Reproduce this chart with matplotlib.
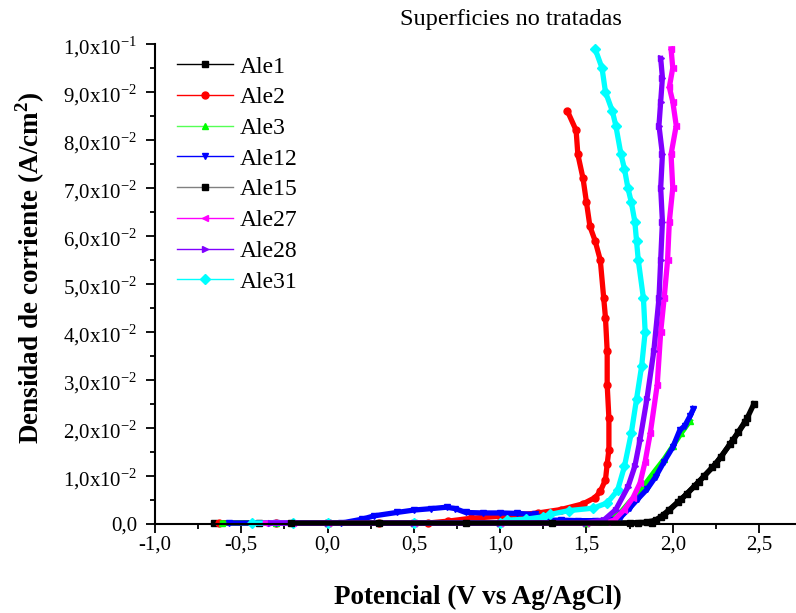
import matplotlib
matplotlib.use('Agg')
import matplotlib.pyplot as plt
from matplotlib.lines import Line2D
from matplotlib.ticker import FixedLocator, MultipleLocator

plt.rcParams['font.family'] = ['Liberation Serif', 'DejaVu Serif']
plt.rcParams['mathtext.fontset'] = 'custom'
plt.rcParams['mathtext.rm'] = 'Liberation Serif'
plt.rcParams['mathtext.bf'] = 'Liberation Serif:bold'

# ---- data (potential V, current density A/cm2) ----
names = ['Ale1', 'Ale2', 'Ale3', 'Ale12', 'Ale15', 'Ale27', 'Ale28', 'Ale31']

ale1_x = [-0.66, -0.4, 0.0, 0.5, 1.0, 1.5, 1.75, 1.85, 1.9, 1.93, 1.98, 2.03, 2.08,
          2.13, 2.18, 2.23, 2.28, 2.33, 2.38, 2.43, 2.47]
ale1_y = [0.0002, 0.0002, 0.0002, 0.0002, 0.0002, 0.0002, 0.0002, 0.0004, 0.0008, 0.0015,
          0.0030, 0.0046, 0.0062, 0.0080, 0.0099, 0.0118, 0.0140, 0.0166, 0.0192, 0.0220, 0.0250]

ale2_x = [-0.63, -0.3, 0.0, 0.3, 0.58, 0.7, 0.83, 1.0, 1.1, 1.22, 1.35, 1.48, 1.55, 1.58,
          1.61, 1.62, 1.63, 1.63, 1.62, 1.62, 1.61, 1.60, 1.58, 1.55, 1.52, 1.50, 1.48,
          1.45, 1.44, 1.39]
ale2_y = [0.0002, 0.0002, 0.0002, 0.0002, 0.0002, 0.0006, 0.0012, 0.0016, 0.0019, 0.0023,
          0.0030, 0.0042, 0.0055, 0.0068, 0.0092, 0.0125, 0.0155, 0.0220, 0.0290, 0.0360,
          0.0430, 0.0470, 0.0550, 0.0590, 0.0620, 0.0670, 0.0720, 0.0770, 0.0820, 0.0860]

ale3_x = [-0.61, -0.3, 0.0, 0.5, 1.0, 1.5, 1.6, 1.65, 1.7, 1.75, 1.8, 1.85, 1.9, 1.95,
          2.0, 2.05, 2.1]
ale3_y = [0.0002, 0.0002, 0.0002, 0.0002, 0.0002, 0.0003, 0.0006, 0.0012, 0.0025, 0.0046,
          0.0065, 0.0088, 0.0112, 0.0135, 0.0162, 0.0190, 0.0215]

ale12_x = [-0.57, -0.3, 0.0, 0.08, 0.2, 0.27, 0.4, 0.5, 0.6, 0.69, 0.74, 0.8, 0.9, 1.0,
           1.1, 1.2, 1.25, 1.28, 1.35, 1.45, 1.55, 1.65, 1.7, 1.75, 1.8, 1.85, 1.9, 1.95,
           2.0, 2.04, 2.07, 2.1, 2.12]
ale12_y = [0.0002, 0.0002, 0.0002, 0.0002, 0.0010, 0.0017, 0.0024, 0.0029, 0.0032, 0.0035,
           0.0032, 0.0024, 0.0023, 0.0023, 0.0022, 0.0020, 0.0012, 0.0008, 0.0008, 0.0007,
           0.0007, 0.0008, 0.0015, 0.0033, 0.0053, 0.0072, 0.0098, 0.0130, 0.0160, 0.0195,
           0.0205, 0.0225, 0.0240]

ale15_x = [-0.21, 0.3, 0.8, 1.3, 1.8, 1.88, 1.95, 2.05, 2.15, 2.25, 2.35, 2.42]
ale15_y = [0.0002, 0.0002, 0.0002, 0.0002, 0.0002, 0.0003, 0.0018, 0.0052, 0.0088, 0.0126,
           0.0175, 0.0212]

ale27_x = [-0.36, -0.2, 0.0, 0.5, 1.0, 1.5, 1.62, 1.66, 1.72, 1.77, 1.81, 1.84, 1.87,
           1.91, 1.93, 1.95, 1.97, 1.98, 2.00, 1.99, 2.02, 2.00, 1.98, 2.00, 1.99]
ale27_y = [0.0002, 0.0002, 0.0002, 0.0002, 0.0002, 0.0002, 0.0004, 0.0008, 0.0030, 0.0055,
           0.0085, 0.0130, 0.0190, 0.0290, 0.0400, 0.0470, 0.0550, 0.0630, 0.0700, 0.0770,
           0.0830, 0.0880, 0.0910, 0.0950, 0.0990]

ale28_x = [-0.33, -0.2, 0.0, 0.5, 1.0, 1.5, 1.6, 1.67, 1.74, 1.78, 1.81, 1.85, 1.89,
           1.92, 1.93, 1.94, 1.93, 1.94, 1.92, 1.93, 1.94, 1.93]
ale28_y = [0.0002, 0.0002, 0.0002, 0.0002, 0.0002, 0.0003, 0.0008, 0.0030, 0.0077, 0.0120,
           0.0175, 0.0260, 0.0360, 0.0470, 0.0550, 0.0630, 0.0700, 0.0770, 0.0830, 0.0880,
           0.0930, 0.0970]

ale31_x = [-0.44, -0.2, 0.0, 0.5, 1.0, 1.04, 1.15, 1.25, 1.29, 1.4, 1.54, 1.62, 1.68,
           1.72, 1.76, 1.79, 1.82, 1.84, 1.83, 1.80, 1.79, 1.78, 1.76, 1.74, 1.72, 1.70,
           1.67, 1.65, 1.61, 1.59, 1.55]
ale31_y = [0.0002, 0.0002, 0.0002, 0.0002, 0.0003, 0.0008, 0.0010, 0.0015, 0.0020, 0.0028,
           0.0033, 0.0044, 0.0070, 0.0120, 0.0190, 0.0260, 0.0330, 0.0400, 0.0470, 0.0550,
           0.0590, 0.0630, 0.0670, 0.0700, 0.0740, 0.0770, 0.0830, 0.0860, 0.0900, 0.0950,
           0.0990]

series_x = [ale1_x, ale2_x, ale3_x, ale12_x, ale15_x, ale27_x, ale28_x, ale31_x]
series_y = [ale1_y, ale2_y, ale3_y, ale12_y, ale15_y, ale27_y, ale28_y, ale31_y]

ytick_vals = [0.0, 0.01, 0.02, 0.03, 0.04, 0.05, 0.06, 0.07, 0.08, 0.09, 0.10]
ytick_labels = ['0,0'] + ['%d,0x10$^{-2}$' % k for k in range(1, 10)] + ['1,0x10$^{-1}$']
xtick_vals = [-1.0, -0.5, 0.0, 0.5, 1.0, 1.5, 2.0, 2.5]
xtick_labels = ['-1,0', '-0,5', '0,0', '0,5', '1,0', '1,5', '2,0', '2,5']

# ---- styles ----
line_colors = ['black', '#ff0000', '#55ff55', '#0000ff', '#808080', '#ff00ff', '#8000ff', '#00ffff']
mark_colors = ['black', '#ff0000', '#00ff00', '#0000ff', 'black', '#ff00ff', '#8000ff', '#00ffff']
markers = ['s', 'o', '^', 'v', 's', '<', '>', 'D']
zorders = [2.0, 2.1, 2.2, 2.3, 2.45, 2.35, 2.4, 2.32]

fig = plt.figure(figsize=(7.96, 6.13), dpi=100)
ax = fig.add_axes([155 / 796, 89 / 613, 641 / 796, 480 / 613])

for i in range(len(names)):
    ax.plot(series_x[i], series_y[i], color=mark_colors[i], lw=3.8, marker=markers[i],
            ms=5, mfc=mark_colors[i], mec=mark_colors[i], clip_on=False, zorder=zorders[i])

ax.set_xlim(-1.0, 2.714)
ax.set_ylim(0, 0.1)
ax.spines['top'].set_visible(False)
ax.spines['right'].set_visible(False)
ax.spines['left'].set_linewidth(1.5)
ax.spines['bottom'].set_linewidth(1.5)

ax.xaxis.set_major_locator(FixedLocator(xtick_vals))
ax.set_xticklabels(xtick_labels)
ax.xaxis.set_minor_locator(MultipleLocator(0.25))
ax.yaxis.set_major_locator(FixedLocator(ytick_vals))
ax.set_yticklabels(ytick_labels)
ax.yaxis.set_minor_locator(MultipleLocator(0.005))
ax.tick_params(which='major', direction='out', length=6.5, width=1.3, labelsize=15)
ax.tick_params(which='minor', direction='out', length=3.8, width=1.3)
ax.tick_params(axis='y', which='major', pad=6)
ax.tick_params(axis='x', which='major', pad=1.5)

handles = [Line2D([], [], color=line_colors[i], lw=1, marker=markers[i], ms=5,
                  mfc=mark_colors[i], mec=mark_colors[i]) for i in range(len(names))]
fig.legend(handles, names, loc='upper left', bbox_to_anchor=(177 / 796, 1 - 56 / 613),
           frameon=False, fontsize=17, handlelength=2.37, handletextpad=0.3,
           labelspacing=0.39, borderpad=0, borderaxespad=0)

fig.text(511 / 796, 1 - 20 / 613, 'Superficies no tratadas', ha='center', va='center', fontsize=17.5)
fig.text(478 / 796, 1 - 597 / 613, 'Potencial (V vs Ag/AgCl)', ha='center', va='center',
         fontsize=19.5, fontweight='bold')
fig.text(30 / 796, 1 - 268 / 613, 'Densidad de corriente (A/cm$^\\mathbf{2}$)', ha='center',
         va='center', rotation=90, fontsize=19.5, fontweight='bold')

fig.savefig('out.png', dpi=100)
